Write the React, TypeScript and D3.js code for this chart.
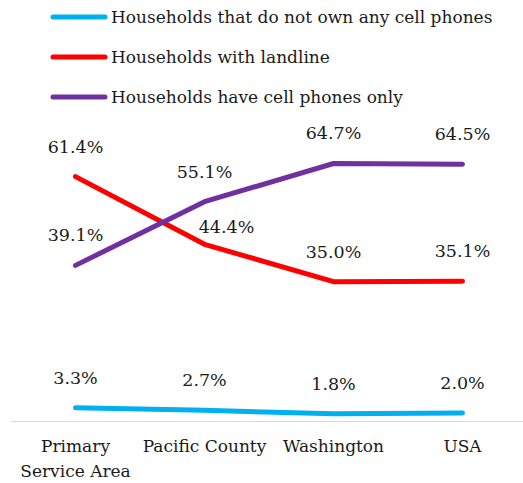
import React from 'react';
import * as d3 from 'd3';

const categories = ['Primary Service Area', 'Pacific County', 'Washington', 'USA'];
const categoryLines = [['Primary', 'Service Area'], ['Pacific County'], ['Washington'], ['USA']];

const noCellValues = [3.3, 2.7, 1.8, 2.0];
const landlineValues = [61.4, 44.4, 35.0, 35.1];
const cellOnlyValues = [39.1, 55.1, 64.7, 64.5];

const seriesNames = [
  'Households that do not own any cell phones',
  'Households with landline',
  'Households have cell phones only',
];
const seriesColors = ['#00B0F0', '#FF0000', '#7030A0'];
const seriesValues = [noCellValues, landlineValues, cellOnlyValues];

const width = 523, height = 483;
const font = '"DejaVu Serif", serif';

const App = () => {
  const x = d3.scaleBand<string>().domain(categories).range([11, 527]);
  const y = d3.scaleLinear().domain([0, 70]).range([421, 142.4]);
  const cx = (c: string) => (x(c) ?? 0) + x.bandwidth() / 2;

  const line = d3.line<number>()
    .x((_, i) => cx(categories[i]))
    .y(d => y(d));

  // the 44.4% label sits lower and to the right in the original
  const nudge = (s: number, i: number) => (s === 1 && i === 1 ? { dx: 22, dy: 13 } : { dx: 0, dy: 0 });

  return (
    <svg width={width} height={height} style={{ position: 'absolute', left: 0, top: 0 }} fontFamily={font}>
      <rect width={width} height={height} fill="#fff" />

      {/* legend */}
      {seriesNames.map((name, s) => (
        <g key={name} transform={`translate(0, ${17 + s * 40})`}>
          <line x1={53} x2={105} stroke={seriesColors[s]} strokeWidth={5} strokeLinecap="round" />
          <text x={111} y={6} fontSize={17} fill="#1a1a1a">{name}</text>
        </g>
      ))}

      {/* x axis */}
      <line x1={x.range()[0]} x2={x.range()[1]} y1={y(0) + 0.5} y2={y(0) + 0.5} stroke="#d9d9d9" strokeWidth={1} />
      {categories.map((c, i) => (
        <text key={c} x={cx(c)} y={452} textAnchor="middle" fontSize={17} fill="#1a1a1a">
          {categoryLines[i].map((t, j) => (
            <tspan key={t} x={cx(c)} dy={j === 0 ? 0 : 25}>{t}</tspan>
          ))}
        </text>
      ))}

      {/* lines */}
      {seriesValues.map((vals, s) => (
        <path key={s} d={line(vals) ?? ''} fill="none" stroke={seriesColors[s]} strokeWidth={5}
          strokeLinecap="round" strokeLinejoin="round" />
      ))}

      {/* data labels */}
      {seriesValues.map((vals, s) => vals.map((v, i) => {
        const n = nudge(s, i);
        return (
          <text key={`${s}-${i}`} x={cx(categories[i]) + n.dx} y={y(v) - 24 + n.dy}
            textAnchor="middle" fontSize={17.5} fill="#1a1a1a">
            {v.toFixed(1)}%
          </text>
        );
      }))}
    </svg>
  );
};

export default App;
